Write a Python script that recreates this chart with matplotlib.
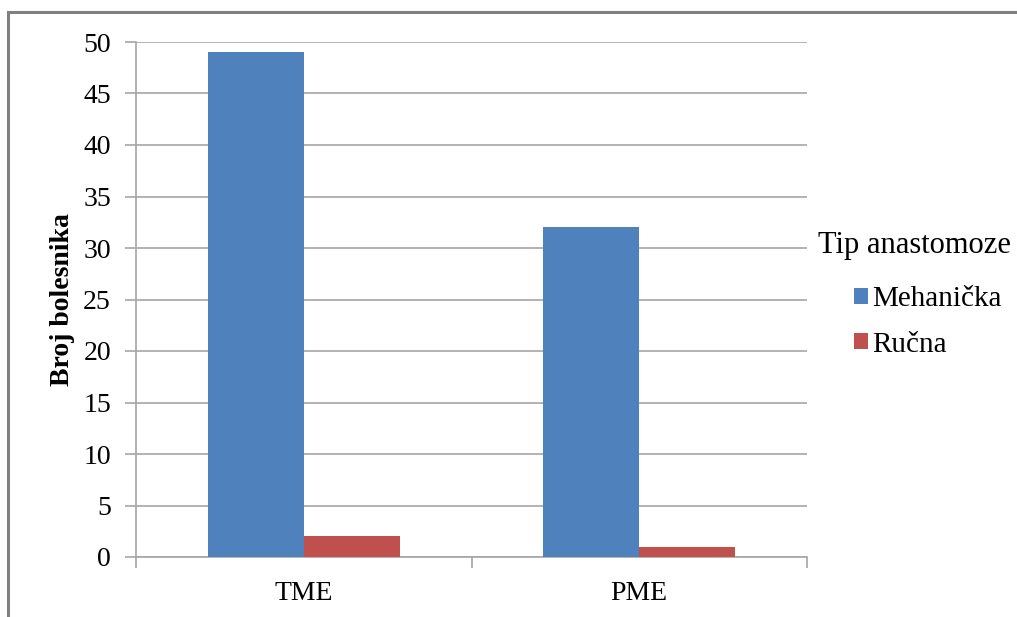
import matplotlib
matplotlib.use("Agg")
import matplotlib.pyplot as plt
from matplotlib.patches import Rectangle
import numpy as np

categories = ["TME", "PME"]
series_names = ["Mehanička", "Ručna"]
mehanicka = [49, 32]
rucna = [2, 1]
colors = ["#4F81BD", "#C0504D"]
yticks = [0, 5, 10, 15, 20, 25, 30, 35, 40, 45, 50]

plt.rcParams['font.family'] = ['Liberation Serif', 'DejaVu Serif']

W, H = 1017, 617
fig = plt.figure(figsize=(W/100, H/100), dpi=100)
ax = fig.add_axes([136/W, 1-557/H, (807-136)/W, (557-42)/H])

# figure border
fig.patches.append(Rectangle((8/W, -0.1), 1.2, 1-12/H+0.1, transform=fig.transFigure,
                             fill=False, edgecolor="#808080", linewidth=2.2))

x = np.arange(len(categories))
w = 1/3.5
ax.bar(x - w/2, mehanicka, w, color=colors[0], label=series_names[0], zorder=3)
ax.bar(x + w/2, rucna, w, color=colors[1], label=series_names[1], zorder=3)

ax.set_xlim(-0.5, len(categories) - 0.5)
ax.set_ylim(0, 50)
ax.set_yticks(yticks)
ax.yaxis.grid(True, color="#A6A6A6", linewidth=1.2, zorder=0)
ax.set_axisbelow(True)

for s in ["top", "right"]:
    ax.spines[s].set_visible(False)
for s in ["left", "bottom"]:
    ax.spines[s].set_color("#A6A6A6")
    ax.spines[s].set_linewidth(1.2)

ax.set_xticks(x)
ax.set_xticklabels(categories, fontsize=20)
ax.tick_params(axis="x", length=0, pad=17)
ax.set_xticks([-0.5, 0.5, 1.5], minor=True)
ax.tick_params(axis="x", which="minor", length=8, color="#A6A6A6", width=1.2, direction="out")
ax.tick_params(axis="y", labelsize=20, length=8, color="#A6A6A6", width=1.2, pad=10)

ax.set_ylabel("Broj bolesnika", fontsize=20, fontweight="bold", labelpad=6)

fig.text(818/W, 1-245/H, "Tip anastomoze", fontsize=22, va="center", ha="left")
leg = ax.legend(loc="center left", bbox_to_anchor=(828/W, 1-322/H),
                bbox_transform=fig.transFigure,
                frameon=False, fontsize=21, handlelength=0.48,
                handleheight=0.48, handletextpad=0.15, labelspacing=0.66)

fig.savefig("out.png", dpi=100)
